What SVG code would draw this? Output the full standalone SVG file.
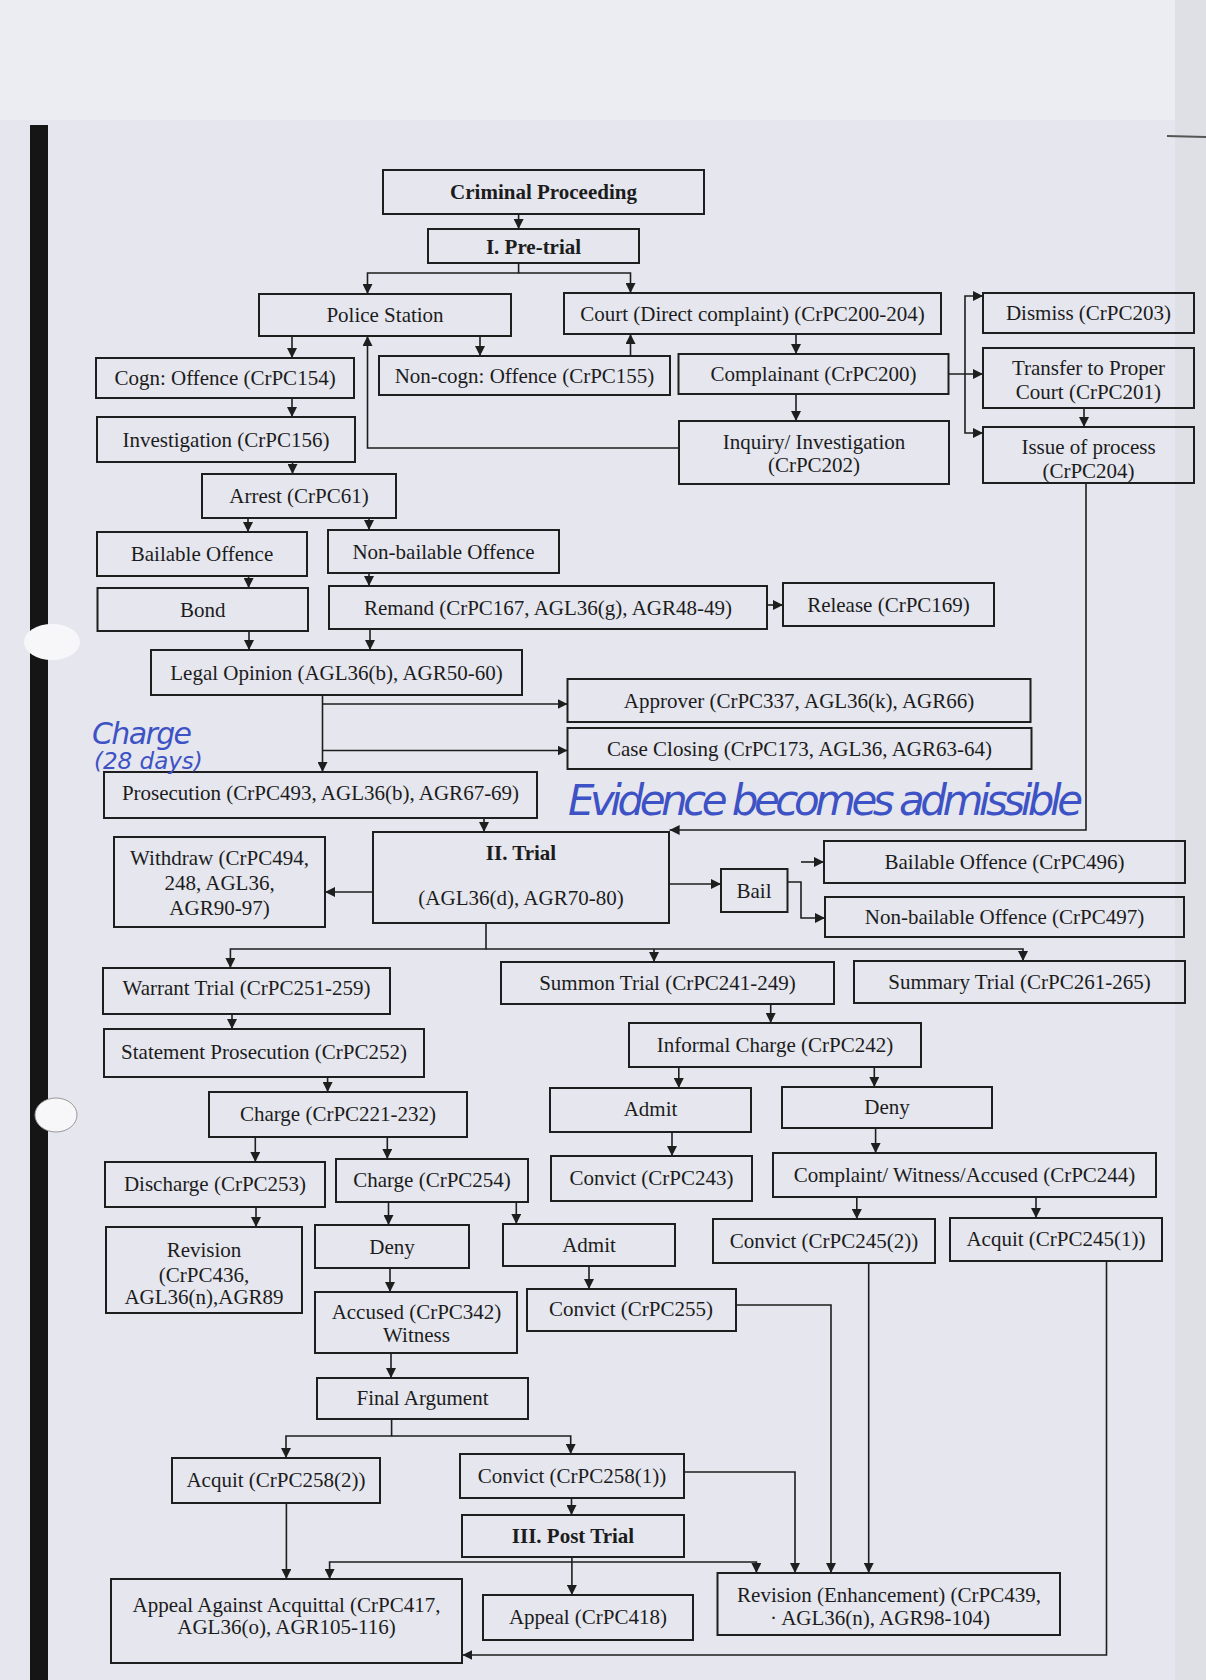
<svg xmlns="http://www.w3.org/2000/svg" width="1206" height="1680" viewBox="0 0 1206 1680">
<defs>
<style>
.bg{fill:#e5e6ee}
.box{fill:none;stroke:#1e1e1e;stroke-width:2}
.t{font-family:"Liberation Serif","Times New Roman",serif;font-size:21px;fill:#1c1c1c;text-anchor:middle}
.b{font-weight:bold}
.c{fill:none;stroke:#1e1e1e;stroke-width:1.6}
.a{marker-end:url(#arr)}
.hw{font-family:"DejaVu Sans","Liberation Sans",sans-serif;font-style:italic;fill:#3d52c4;font-weight:200}
</style>
<marker id="arr" markerUnits="userSpaceOnUse" markerWidth="11" markerHeight="10" refX="10" refY="5" orient="auto">
<path d="M0,0 L10,5 L0,10 z" fill="#1e1e1e"/>
</marker>
</defs>
<rect class="bg" x="0" y="0" width="1206" height="1680"/>
<rect x="0" y="0" width="1206" height="120" fill="#ecedf3"/>
<rect x="1175" y="0" width="31" height="1680" fill="#dfdfe6"/>
<rect x="30" y="125" width="18" height="1555" fill="#151515"/>
<line x1="1167" y1="136" x2="1206" y2="137" stroke="#555" stroke-width="2"/>
<ellipse cx="52" cy="642" rx="28" ry="18" fill="#f7f7fa"/>
<ellipse cx="56" cy="1115" rx="21" ry="17" fill="#f7f7fa" stroke="#999" stroke-width="1"/>

<g id="connectors">
<path class="c a" d="M518.6,214 V229"/>
<path class="c a" d="M518.6,263 V273 H367.5 V294"/>
<path class="c a" d="M518.6,273 H630.5 V293"/>
<path class="c a" d="M292,336 V358"/>
<path class="c a" d="M480,336 V356"/>
<path class="c a" d="M630.5,356 V334"/>
<path class="c a" d="M796,334 V354"/>
<path class="c a" d="M796,394 V421"/>
<path class="c a" d="M679,448 H367.5 V336"/>
<path class="c a" d="M949,374 H983"/>
<path class="c a" d="M965,374 V296 H983"/>
<path class="c a" d="M965,374 V433 H983"/>
<path class="c a" d="M1084,408 V427"/>
<path class="c a" d="M1086,483 V830 H669.6"/>
<path class="c a" d="M292,398 V417"/>
<path class="c a" d="M292.5,462 V474"/>
<path class="c a" d="M248,518 V532"/>
<path class="c a" d="M369,518 V530"/>
<path class="c a" d="M248.6,576 V588"/>
<path class="c a" d="M369,573 V586"/>
<path class="c a" d="M767,605 H783"/>
<path class="c a" d="M249,631 V650"/>
<path class="c a" d="M370,629 V650"/>
<path class="c a" d="M322.5,695 V772"/>
<path class="c a" d="M322.5,704 H567.5"/>
<path class="c a" d="M322.5,750.5 H567.5"/>
<path class="c a" d="M484,818 V832"/>
<path class="c a" d="M373,892 H325"/>
<path class="c a" d="M669,884 H721"/>
<path class="c a" d="M787.5,882 H801 V918 H825"/>
<path class="c a" d="M801,862 H824"/>
<path class="c a" d="M486,923 V949 H230.4 V968"/>
<path class="c a" d="M486,949 H1023 V961"/>
<path class="c a" d="M654,949 V962"/>
<path class="c a" d="M232,1014 V1029"/>
<path class="c a" d="M327.6,1077 V1092"/>
<path class="c a" d="M255.3,1137 V1162"/>
<path class="c a" d="M387.3,1137 V1159"/>
<path class="c a" d="M256,1207 V1227"/>
<path class="c a" d="M388.5,1202 V1225"/>
<path class="c a" d="M516.3,1202 V1224"/>
<path class="c a" d="M390,1268 V1292"/>
<path class="c a" d="M589,1266 V1289"/>
<path class="c a" d="M770.7,1004 V1023"/>
<path class="c a" d="M678.8,1067 V1088"/>
<path class="c a" d="M874.3,1067 V1087"/>
<path class="c a" d="M672,1132 V1156"/>
<path class="c a" d="M875.6,1128 V1153"/>
<path class="c a" d="M856.8,1197 V1219"/>
<path class="c a" d="M1036,1197 V1218"/>
<path class="c a" d="M868.7,1263 V1573"/>
<path class="c a" d="M736,1305 H831 V1573"/>
<path class="c a" d="M683.6,1472 H795 V1573"/>
<path class="c a" d="M1106.5,1261 V1655 H462.4"/>
<path class="c a" d="M391,1353 V1378"/>
<path class="c a" d="M391.6,1419 V1436 H286 V1458"/>
<path class="c a" d="M391.6,1436 H570.7 V1454"/>
<path class="c a" d="M571.5,1498 V1515"/>
<path class="c a" d="M571.9,1557 V1595"/>
<path class="c a" d="M571.9,1562 H329.6 V1579"/>
<path class="c a" d="M571.9,1562 H756.4 V1573"/>
<path class="c a" d="M286.4,1503 V1579"/>
</g>

<g id="n_criminal"><rect class="box" x="383" y="170" width="321" height="44"/><text class="t b" x="543.5" y="199">Criminal Proceeding</text></g>
<g id="n_pretrial"><rect class="box" x="428" y="229" width="211" height="34"/><text class="t b" x="533.5" y="254">I. Pre-trial</text></g>
<g id="n_police"><rect class="box" x="259" y="294" width="252" height="42"/><text class="t" x="385" y="322">Police Station</text></g>
<g id="n_court"><rect class="box" x="564" y="293" width="377" height="41"/><text class="t" x="752.5" y="320.5">Court (Direct complaint) (CrPC200-204)</text></g>
<g id="n_cogn"><rect class="box" x="96" y="358" width="258" height="40"/><text class="t" x="225" y="385">Cogn: Offence (CrPC154)</text></g>
<g id="n_noncogn"><rect class="box" x="379" y="356" width="291" height="39"/><text class="t" x="524.5" y="382.5">Non-cogn: Offence (CrPC155)</text></g>
<g id="n_complainant"><rect class="box" x="678.5" y="354" width="270" height="40"/><text class="t" x="813.5" y="381">Complainant (CrPC200)</text></g>
<g id="n_inquiry"><rect class="box" x="679" y="421" width="270" height="63"/><text class="t" x="814" y="449">Inquiry/ Investigation</text><text class="t" x="814" y="472">(CrPC202)</text></g>
<g id="n_dismiss"><rect class="box" x="983" y="293" width="211" height="40"/><text class="t" x="1088.5" y="320">Dismiss (CrPC203)</text></g>
<g id="n_transfer"><rect class="box" x="983" y="348" width="211" height="60"/><text class="t" x="1088.5" y="375">Transfer to Proper</text><text class="t" x="1088.5" y="399">Court (CrPC201)</text></g>
<g id="n_issue"><rect class="box" x="983" y="427" width="211" height="56"/><text class="t" x="1088.5" y="454">Issue of process</text><text class="t" x="1088.5" y="478">(CrPC204)</text></g>
<g id="n_invest"><rect class="box" x="97" y="417" width="258" height="45"/><text class="t" x="226" y="446.5">Investigation (CrPC156)</text></g>
<g id="n_arrest"><rect class="box" x="202" y="474" width="194" height="44"/><text class="t" x="299" y="503">Arrest (CrPC61)</text></g>
<g id="n_bailable"><rect class="box" x="97" y="532" width="210" height="44"/><text class="t" x="202" y="561">Bailable Offence</text></g>
<g id="n_nonbailable"><rect class="box" x="328" y="530" width="231" height="43"/><text class="t" x="443.5" y="558.5">Non-bailable Offence</text></g>
<g id="n_bond"><rect class="box" x="97.5" y="588" width="210.5" height="43"/><text class="t" x="202.7" y="616.5">Bond</text></g>
<g id="n_remand"><rect class="box" x="329" y="586" width="438" height="43"/><text class="t" x="548" y="614.5">Remand (CrPC167, AGL36(g), AGR48-49)</text></g>
<g id="n_release"><rect class="box" x="783" y="583" width="211" height="43"/><text class="t" x="888.5" y="611.5">Release (CrPC169)</text></g>
<g id="n_legal"><rect class="box" x="151" y="650" width="371" height="45"/><text class="t" x="336.5" y="679.5">Legal Opinion (AGL36(b), AGR50-60)</text></g>
<g id="n_approver"><rect class="box" x="567.5" y="679" width="463" height="43"/><text class="t" x="799" y="707.5">Approver (CrPC337, AGL36(k), AGR66)</text></g>
<g id="n_caseclosing"><rect class="box" x="567.5" y="728" width="464" height="41"/><text class="t" x="799.5" y="755.5">Case Closing (CrPC173, AGL36, AGR63-64)</text></g>
<g id="n_prosecution"><rect class="box" x="104" y="772" width="433" height="46"/><text class="t" x="320.5" y="800">Prosecution (CrPC493, AGL36(b), AGR67-69)</text></g>
<g id="n_trial"><rect class="box" x="373" y="832" width="296" height="91"/><text class="t b" x="521" y="860">II. Trial</text><text class="t" x="521" y="905">(AGL36(d), AGR70-80)</text></g>
<g id="n_withdraw"><rect class="box" x="114" y="837" width="211" height="90"/><text class="t" x="219.5" y="865">Withdraw (CrPC494,</text><text class="t" x="219.5" y="890">248, AGL36,</text><text class="t" x="219.5" y="915">AGR90-97)</text></g>
<g id="n_bail"><rect class="box" x="721" y="869" width="66.5" height="43"/><text class="t" x="754" y="897.5">Bail</text></g>
<g id="n_bail496"><rect class="box" x="824" y="841" width="361" height="42"/><text class="t" x="1004.5" y="869">Bailable Offence (CrPC496)</text></g>
<g id="n_nonbail497"><rect class="box" x="825" y="897" width="359" height="40"/><text class="t" x="1004.5" y="924">Non-bailable Offence (CrPC497)</text></g>
<g id="n_warrant"><rect class="box" x="103" y="968" width="287" height="46"/><text class="t" x="246.5" y="995">Warrant Trial (CrPC251-259)</text></g>
<g id="n_summon"><rect class="box" x="501" y="962" width="333" height="42"/><text class="t" x="667.5" y="990">Summon Trial (CrPC241-249)</text></g>
<g id="n_summary"><rect class="box" x="854" y="961" width="331" height="42"/><text class="t" x="1019.5" y="989">Summary Trial (CrPC261-265)</text></g>
<g id="n_statement"><rect class="box" x="104" y="1029" width="320" height="48"/><text class="t" x="264" y="1059">Statement Prosecution (CrPC252)</text></g>
<g id="n_charge221"><rect class="box" x="209" y="1092" width="258" height="45"/><text class="t" x="338" y="1121">Charge (CrPC221-232)</text></g>
<g id="n_discharge"><rect class="box" x="105" y="1162" width="220" height="45"/><text class="t" x="215" y="1191">Discharge (CrPC253)</text></g>
<g id="n_charge254"><rect class="box" x="336" y="1159" width="192" height="43"/><text class="t" x="432" y="1187">Charge (CrPC254)</text></g>
<g id="n_revision"><rect class="box" x="106" y="1227" width="196" height="86"/><text class="t" x="204" y="1257">Revision</text><text class="t" x="204" y="1282">(CrPC436,</text><text class="t" x="204" y="1304">AGL36(n),AGR89</text></g>
<g id="n_deny1"><rect class="box" x="315" y="1225" width="154" height="43"/><text class="t" x="392" y="1253.5">Deny</text></g>
<g id="n_admit1"><rect class="box" x="503" y="1224" width="172" height="42"/><text class="t" x="589" y="1252">Admit</text></g>
<g id="n_accused"><rect class="box" x="315" y="1292" width="202" height="61"/><text class="t" x="416.5" y="1319">Accused (CrPC342)</text><text class="t" x="416.5" y="1342">Witness</text></g>
<g id="n_convict255"><rect class="box" x="527" y="1289" width="209" height="42"/><text class="t" x="631" y="1316">Convict (CrPC255)</text></g>
<g id="n_informal"><rect class="box" x="629" y="1023" width="292" height="44"/><text class="t" x="775" y="1052">Informal Charge (CrPC242)</text></g>
<g id="n_admit2"><rect class="box" x="550" y="1088" width="201" height="44"/><text class="t" x="650.5" y="1116">Admit</text></g>
<g id="n_deny2"><rect class="box" x="782" y="1087" width="210" height="41"/><text class="t" x="887" y="1114">Deny</text></g>
<g id="n_convict243"><rect class="box" x="551" y="1156" width="201" height="45"/><text class="t" x="651.5" y="1185">Convict (CrPC243)</text></g>
<g id="n_complaint244"><rect class="box" x="773" y="1153" width="383" height="44"/><text class="t" x="964.5" y="1182">Complaint/ Witness/Accused (CrPC244)</text></g>
<g id="n_convict245"><rect class="box" x="713" y="1219" width="222" height="44"/><text class="t" x="824" y="1248">Convict (CrPC245(2))</text></g>
<g id="n_acquit245"><rect class="box" x="950" y="1218" width="212" height="43"/><text class="t" x="1056" y="1246">Acquit (CrPC245(1))</text></g>
<g id="n_final"><rect class="box" x="317" y="1378" width="211" height="41"/><text class="t" x="422.5" y="1405">Final Argument</text></g>
<g id="n_acquit258"><rect class="box" x="172" y="1458" width="208" height="45"/><text class="t" x="276" y="1487">Acquit (CrPC258(2))</text></g>
<g id="n_convict258"><rect class="box" x="460" y="1454" width="224" height="44"/><text class="t" x="572" y="1483">Convict (CrPC258(1))</text></g>
<g id="n_posttrial"><rect class="box" x="462" y="1515" width="222" height="42"/><text class="t b" x="573" y="1543">III. Post Trial</text></g>
<g id="n_appealagainst"><rect class="box" x="111" y="1579" width="351" height="84"/><text class="t" x="286.5" y="1612">Appeal Against Acquittal (CrPC417,</text><text class="t" x="286.5" y="1634">AGL36(o), AGR105-116)</text></g>
<g id="n_appeal418"><rect class="box" x="483" y="1595" width="210" height="45"/><text class="t" x="588" y="1624">Appeal (CrPC418)</text></g>
<g id="n_revenh"><rect class="box" x="717.5" y="1573" width="342.5" height="62"/><text class="t" x="889" y="1602">Revision (Enhancement) (CrPC439,</text><text class="t" x="880" y="1625">·  AGL36(n), AGR98-104)</text></g>

<g id="handwriting">
<text class="hw" x="92" y="744" font-size="30" textLength="100">Charge</text>
<text class="hw" x="94" y="769" font-size="23">(28 days)</text>
<text class="hw" x="568" y="815" font-size="42" textLength="515">Evidence becomes admissible</text>
</g>
</svg>
